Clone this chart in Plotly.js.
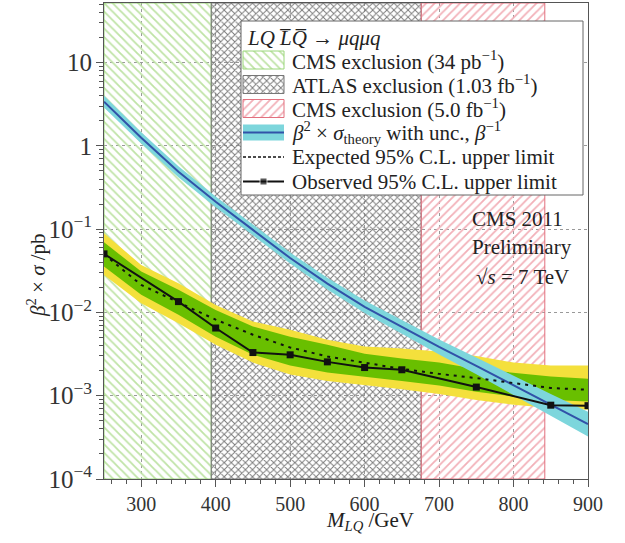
<!DOCTYPE html>
<html>
<head>
<meta charset="utf-8">
<script src="https://cdn.plot.ly/plotly-3.0.1.min.js"></script>
<style>html,body{margin:0;padding:0;background:#fff;}#chart{width:625px;height:543px;}</style>
</head>
<body>
<div id="chart"></div>
<script>
// ---- data ----
const mass = [250,300,350,400,450,500,550,600,650,700,750,800,850,900];
const theory     = [3.4,1.25,0.49,0.213,0.098,0.045,0.0222,0.0117,0.0067,0.00385,0.00228,0.00133,0.00078,0.000456];
const theoryUp   = [4.0,1.46,0.57,0.247,0.114,0.0524,0.0261,0.0139,0.0081,0.00474,0.00287,0.00173,0.00105,0.000644];
const theoryDown = [2.89,1.07,0.421,0.183,0.0844,0.0387,0.0189,0.00984,0.00555,0.00313,0.00181,0.00102,0.000578,0.000323];
const expected   = [0.050,0.0214,0.0132,0.0082,0.0054,0.0038,0.00296,0.0025,0.0021,0.00183,0.00163,0.00142,0.00124,0.00118];
const yellowUp   = [0.0895,0.0372,0.0224,0.0123,0.0078,0.0062,0.0047,0.0039,0.0037,0.0034,0.0030,0.0025,0.0023,0.0023];
const greenUp    = [0.0698,0.031,0.0187,0.0107,0.0068,0.0051,0.0041,0.0032,0.0028,0.0025,0.0021,0.0019,0.0017,0.0016];
const greenDown  = [0.0356,0.0163,0.0094,0.0051,0.0031,0.0023,0.0019,0.0017,0.0015,0.00133,0.00112,0.00098,0.00089,0.00085];
const yellowDown = [0.0282,0.0129,0.0074,0.0041,0.0025,0.0018,0.0015,0.00135,0.0012,0.00105,0.00089,0.00078,0.00071,0.00068];
const massObs  = [250,350,400,450,500,550,600,650,750,850,900];
const observed = [0.0505,0.0135,0.0065,0.0033,0.0031,0.00255,0.00218,0.00205,0.00127,0.00077,0.00076];
// exclusion limits (GeV)
const exclCMS34 = [250,394];
const exclATLAS = [394,676];
const exclCMS50 = [676,842];
const yLow = 1e-4, yHigh = 52;
const legendLabels = [
  "CMS exclusion (34 pb<sup>−1</sup>)",
  "ATLAS exclusion (1.03 fb<sup>−1</sup>)",
  "CMS exclusion (5.0 fb<sup>−1</sup>)",
  "<i>β</i><sup>2</sup> × <i>σ</i><sub>theory</sub> with unc., <i>β</i><sup>−1</sup>",
  "Expected 95% C.L. upper limit",
  "Observed 95% C.L. upper limit"
];
const legendHeader = "<i>LQ L̅Q̅ → μqμq</i>";

// ---- styles ----
const FONT = "Liberation Serif, Times New Roman, serif";
const cGreenHatch = '#bfe3a6', cGreenEdge = '#9ad67a';
const cGray = '#7a7a7a', cGrayEdge = '#777';
const cRedHatch = '#f2b0b8', cRedEdge = '#e2707e';
const cYellow = '#f4e03c', cGreen = '#69bf00', cCyan = '#7dd6dc', cBlue = '#3152a8';
const patGreen = {shape:'\\', fgcolor:cGreenHatch, bgcolor:'rgba(0,0,0,0)', size:6, solidity:0.3};
const patGray  = {shape:'x', fgcolor:cGray, bgcolor:'rgba(0,0,0,0)', size:5, solidity:0.35};
const patRed   = {shape:'/', fgcolor:cRedHatch, bgcolor:'rgba(0,0,0,0)', size:6, solidity:0.3};

function region(r, pat, edge){
  return {x:[r[0],r[1],r[1],r[0],r[0]], y:[yLow,yLow,yHigh,yHigh,yLow], mode:'lines', fill:'toself',
    fillpattern:pat, fillcolor:'rgba(0,0,0,0)', line:{color:edge,width:1}, hoverinfo:'skip', showlegend:false};
}

const traces = [
  region(exclCMS34, patGreen, cGreenEdge),
  region(exclATLAS, patGray, cGrayEdge),
  region(exclCMS50, patRed, cRedEdge),
  {x:mass, y:yellowDown, mode:'lines', line:{width:0,color:cYellow}, showlegend:false},
  {x:mass, y:yellowUp, mode:'lines', fill:'tonexty', fillcolor:cYellow, line:{width:0,color:cYellow}, showlegend:false},
  {x:mass, y:greenDown, mode:'lines', line:{width:0,color:cGreen}, showlegend:false},
  {x:mass, y:greenUp, mode:'lines', fill:'tonexty', fillcolor:cGreen, line:{width:0,color:cGreen}, showlegend:false},
  {x:mass, y:theoryDown, mode:'lines', line:{width:0,color:cCyan}, showlegend:false},
  {x:mass, y:theoryUp, mode:'lines', fill:'tonexty', fillcolor:cCyan, line:{width:0,color:cCyan}, showlegend:false},
  {x:mass, y:theory, mode:'lines', line:{width:2,color:cBlue}, showlegend:false},
  {x:mass, y:expected, mode:'lines', line:{width:2,color:'#111',dash:'3px,5px'}, showlegend:false},
  {x:massObs, y:observed, mode:'lines+markers', line:{width:2,color:'#111'}, marker:{symbol:'square',size:7,color:'#111'}, showlegend:false}
];

// ---- legend drawn on a pixel-scaled overlay axis ----
const L = 104, R = 588, T = 3, B = 479;
const box = {x0:241, x1:583, y0:21, y1:195};
traces.push({x:[box.x0,box.x1,box.x1,box.x0,box.x0], y:[box.y0,box.y0,box.y1,box.y1,box.y0], xaxis:'x2', yaxis:'y2',
  mode:'lines', fill:'toself', fillcolor:'#fff', line:{color:'#666',width:1}, showlegend:false, hoverinfo:'skip'});
const rowY = [60,84.5,108.5,132.5,157,181.5];
const sw0 = 243, sw1 = 284;
function swatch(yc, h, pat, edge){
  return {x:[sw0,sw1,sw1,sw0,sw0], y:[yc-h/2,yc-h/2,yc+h/2,yc+h/2,yc-h/2], xaxis:'x2', yaxis:'y2', mode:'lines', fill:'toself',
    fillpattern:pat, fillcolor:'rgba(0,0,0,0)', line:{color:edge,width:1}, showlegend:false, hoverinfo:'skip'};
}
traces.push(swatch(rowY[0],18,patGreen,cGreenEdge));
traces.push(swatch(rowY[1],18,patGray,cGrayEdge));
traces.push(swatch(rowY[2],18,patRed,cRedEdge));
traces.push({x:[sw0,sw1,sw1,sw0,sw0], y:[rowY[3]-8,rowY[3]-8,rowY[3]+8,rowY[3]+8,rowY[3]-8], xaxis:'x2', yaxis:'y2', mode:'lines', fill:'toself',
  fillcolor:cCyan, line:{width:0,color:cCyan}, showlegend:false, hoverinfo:'skip'});
traces.push({x:[sw0,sw1], y:[rowY[3],rowY[3]], xaxis:'x2', yaxis:'y2', mode:'lines', line:{color:cBlue,width:2}, showlegend:false, hoverinfo:'skip'});
traces.push({x:[sw0,sw1], y:[rowY[4],rowY[4]], xaxis:'x2', yaxis:'y2', mode:'lines', line:{color:'#111',width:1.5,dash:'3px,2px'}, showlegend:false, hoverinfo:'skip'});
traces.push({x:[sw0,(sw0+sw1)/2,sw1], y:[rowY[5],rowY[5],rowY[5]], xaxis:'x2', yaxis:'y2', mode:'lines+markers',
  line:{color:'#111',width:2}, marker:{symbol:'square',size:[0,7,0],color:'#111'}, showlegend:false, hoverinfo:'skip'});

function px2paperX(p){ return (p - L)/(R - L); }
function px2paperY(p){ return (B - p)/(B - T); }
const ann = [];
function txt(text, xp, yp, xanchor, size, extra){
  ann.push(Object.assign({text:text, xref:'paper', yref:'paper', x:px2paperX(xp), y:px2paperY(yp), xanchor:xanchor, yanchor:'middle',
    showarrow:false, font:{family:FONT, size:size, color:'#222'}}, extra||{}));
}
txt(legendHeader, 245, 38, 'left', 21);
legendLabels.forEach((t,i)=>txt(t, 290, rowY[i], 'left', 21));
txt("CMS 2011", 517, 219, 'center', 21);
txt("Preliminary", 522, 247, 'center', 21);
txt("√<i>s</i> = 7 TeV", 522, 277, 'center', 21);
txt("<i>M</i><sub><i>LQ</i></sub> /GeV", 370, 521, 'center', 21);
txt("<i>β</i><sup>2</sup> × <i>σ</i> /pb", 36, 275, 'center', 21, {textangle:-90});

const layout = {
  width:625, height:543,
  margin:{l:L, r:625-R, t:T, b:543-B, pad:0},
  paper_bgcolor:'#fff', plot_bgcolor:'#fff',
  font:{family:FONT, size:20, color:'#222'},
  showlegend:false,
  xaxis:{range:[250,900], showline:true, linecolor:'#555', linewidth:1, mirror:true,
    ticks:'outside', ticklen:7, tickcolor:'#555', dtick:100, tick0:0,
    tickfont:{family:FONT,size:20,color:'#333'},
    showgrid:true, gridcolor:'#999', griddash:'dot', gridwidth:1, zeroline:false,
    minor:{dtick:20, ticks:'outside', ticklen:4, tickcolor:'#555', showgrid:false}},
  yaxis:{type:'log', range:[-4, Math.log10(yHigh)], showline:true, linecolor:'#555', linewidth:1, mirror:true,
    ticks:'outside', ticklen:7, tickcolor:'#555', dtick:1, exponentformat:'power',
    tickfont:{family:FONT,size:20,color:'#333'},
    showgrid:true, gridcolor:'#999', griddash:'dot', gridwidth:1, zeroline:false,
    minor:{dtick:'D1', ticks:'outside', ticklen:4, tickcolor:'#555', showgrid:false}},
  xaxis2:{overlaying:'x', range:[L,R], visible:false, fixedrange:true},
  yaxis2:{overlaying:'y', range:[B,T], visible:false, fixedrange:true},
  annotations:ann
};
Plotly.newPlot('chart', traces, layout, {displayModeBar:false, staticPlot:true});
</script>
</body>
</html>
